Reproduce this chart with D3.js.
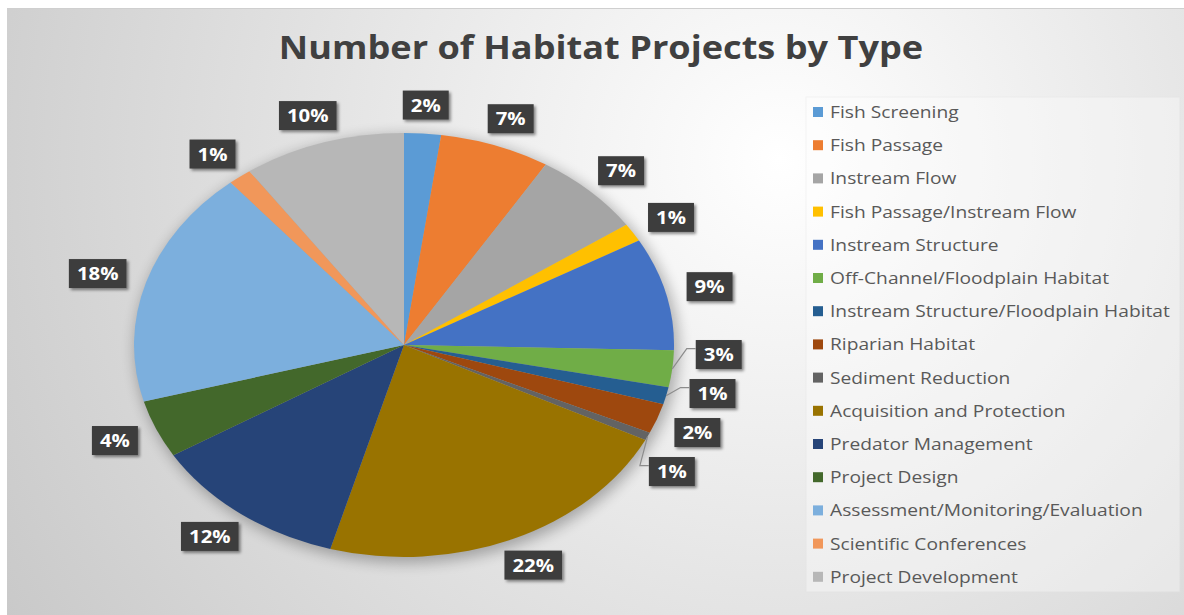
<!DOCTYPE html>
<html>
<head>
<meta charset="utf-8">
<script src="https://cdn.jsdelivr.net/npm/d3@7"></script>
<style>
  html, body { margin: 0; padding: 0; background: #fff; }
  svg { display: block; font-family: "Open Sans", "Noto Sans", sans-serif; }
</style>
</head>
<body>
<div id="chart"></div>
<script>
// habitat project counts by type (in percent of all projects)
const categories = [
  "Fish Screening", "Fish Passage", "Instream Flow", "Fish Passage/Instream Flow",
  "Instream Structure", "Off-Channel/Floodplain Habitat", "Instream Structure/Floodplain Habitat",
  "Riparian Habitat", "Sediment Reduction", "Acquisition and Protection", "Predator Management",
  "Project Design", "Assessment/Monitoring/Evaluation", "Scientific Conferences", "Project Development"
];
const values = [2.2, 6.6, 6.6, 1.4, 8.6, 2.8, 1.3, 2.3, 0.6, 22.0, 11.9, 4.4, 18.2, 1.4, 9.7];
const colors = [
  "#5b9bd5", "#ed7d31", "#a5a5a5", "#ffc000", "#4472c4", "#70ad47", "#255e91",
  "#9e480e", "#636363", "#997300", "#264478", "#43682b", "#7cafdd", "#f1975a", "#b7b7b7"
];
const title = "Number of Habitat Projects by Type";

const width = 1184, height = 615;
const cx = 404, cy = 345, rx = 270, ry = 212;
const stretch = 1.13; // the original picture is stretched sideways, text too

const data = categories.map((c, i) => ({ name: c, value: values[i], color: colors[i] }));
const total = d3.sum(values);

const svg = d3.select("#chart").append("svg")
  .attr("width", width)
  .attr("height", height);

const defs = svg.append("defs");

// background gradient like the office chart style
const grad = defs.append("radialGradient")
  .attr("id", "bg")
  .attr("gradientUnits", "userSpaceOnUse")
  .attr("cx", 780).attr("cy", 160).attr("r", 900);
grad.append("stop").attr("offset", 0).attr("stop-color", "#ffffff");
grad.append("stop").attr("offset", 1).attr("stop-color", "#c9c9c9");

const blur = defs.append("filter").attr("id", "pieShadow")
  .attr("x", "-20%").attr("y", "-20%").attr("width", "140%").attr("height", "140%");
blur.append("feGaussianBlur").attr("stdDeviation", 7);

const boxShadow = defs.append("filter").attr("id", "boxShadow")
  .attr("x", "-30%").attr("y", "-30%").attr("width", "160%").attr("height", "160%");
boxShadow.append("feDropShadow")
  .attr("dx", 2).attr("dy", 2).attr("stdDeviation", 1.5)
  .attr("flood-color", "#000").attr("flood-opacity", 0.45);

svg.append("rect")
  .attr("x", 7).attr("y", 8)
  .attr("width", width - 7).attr("height", height - 8)
  .attr("fill", "url(#bg)");
svg.append("line")
  .attr("x1", 7).attr("x2", width).attr("y1", 8.5).attr("y2", 8.5)
  .attr("stroke", "#cfcfcf");

svg.append("text")
  .attr("transform", `translate(601,59) scale(${stretch},1)`)
  .attr("text-anchor", "middle")
  .attr("font-size", 32)
  .attr("font-weight", "bold")
  .attr("fill", "#404040")
  .text(title);

// pie (drawn as a circle then stretched into the ellipse of the original)
const pie = d3.pie().sort(null).value(d => d.value);
const arcs = pie(data);
const arc = d3.arc().innerRadius(0).outerRadius(ry);

svg.append("ellipse")
  .attr("cx", cx + 3).attr("cy", cy + 4)
  .attr("rx", rx + 2).attr("ry", ry + 2)
  .attr("fill", "#000").attr("opacity", 0.28)
  .attr("filter", "url(#pieShadow)");

svg.append("g")
  .attr("transform", `translate(${cx},${cy}) scale(${rx / ry},1)`)
  .selectAll("path")
  .data(arcs)
  .join("path")
  .attr("d", arc)
  .attr("fill", d => d.data.color);

// data labels
const gap = 14, gapX = 8, boxH = 29;
const labelG = svg.append("g").attr("font-size", 18).attr("font-weight", "bold");

const labels = arcs.map(a => {
  const th = (a.startAngle + a.endAngle) / 2;
  const txt = Math.round(a.data.value / total * 100) + "%";
  return { a, th, txt };
});

// measure widths
labels.forEach(l => {
  const t = labelG.append("text").text(l.txt);
  l.w = t.node().getComputedTextLength() * stretch + 16;
  t.remove();
  l.Rx = rx + gap + gapX + l.w / 2;
  l.Ry = ry + gap + boxH / 2;
  l.side = Math.sin(l.th) >= 0 ? 1 : -1;
  l.x0 = cx + l.Rx * Math.sin(l.th);
  l.y0 = cy - l.Ry * Math.cos(l.th);
  l.x = l.x0; l.y = l.y0;
});

function xFromY(l) {
  let c = -(l.y - cy) / l.Ry;
  c = Math.max(-1, Math.min(1, c));
  return cx + l.side * l.Rx * Math.sqrt(1 - c * c);
}

// push overlapping labels apart vertically
for (let it = 0; it < 200; it++) {
  let moved = false;
  for (let i = 0; i < labels.length; i++) {
    for (let j = i + 1; j < labels.length; j++) {
      const p = labels[i], q = labels[j];
      const dx = Math.abs(p.x - q.x), dy = q.y - p.y;
      const minY = boxH + 10;
      if (dx < (p.w + q.w) / 2 + 4 && Math.abs(dy) < minY) {
        const push = (minY - Math.abs(dy)) / 2 * (dy >= 0 ? 1 : -1);
        p.y -= push * 0.5; q.y += push * 0.5;
        moved = true;
      }
    }
  }
  labels.forEach(l => { l.x = xFromY(l); });
  if (!moved) break;
}

// leader lines for labels that had to move
labels.forEach(l => {
  const moved = Math.hypot(l.x - l.x0, l.y - l.y0);
  if (moved > 8) {
    const px = cx + rx * Math.sin(l.th), py = cy - ry * Math.cos(l.th);
    const edge = l.x - l.side * l.w / 2;
    svg.append("polyline")
      .attr("points", [[px, py], [edge - l.side * 9, l.y - 6], [edge, l.y - 6]].join(" "))
      .attr("fill", "none")
      .attr("stroke", "#8c8c8c")
      .attr("stroke-width", 1.2);
  }
});

const lab = labelG.selectAll("g")
  .data(labels)
  .join("g")
  .attr("transform", d => `translate(${d.x},${d.y})`);

lab.append("rect")
  .attr("x", d => -d.w / 2).attr("y", -boxH / 2)
  .attr("width", d => d.w).attr("height", boxH)
  .attr("fill", "#3d3d3d")
  .attr("filter", "url(#boxShadow)");

lab.append("text")
  .attr("transform", `scale(${stretch},1)`)
  .attr("text-anchor", "middle")
  .attr("dy", "0.36em")
  .attr("fill", "#fff")
  .text(d => d.txt);

// legend
const legX = 806, legY = 97;
svg.append("rect")
  .attr("x", legX).attr("y", legY)
  .attr("width", 374).attr("height", 495)
  .attr("fill", "#ffffff").attr("opacity", 0.35)
  .attr("stroke", "#e4e4e4");

const legend = svg.append("g")
  .selectAll("g")
  .data(data)
  .join("g")
  .attr("transform", (d, i) => `translate(${legX + 7},${112 + i * 33.2})`);

legend.append("rect")
  .attr("x", 0).attr("y", -5)
  .attr("width", 10).attr("height", 10)
  .attr("fill", d => d.color);

legend.append("text")
  .attr("transform", `translate(17,0) scale(${stretch},1)`)
  .attr("dy", "0.35em")
  .attr("font-size", 17)
  .attr("fill", "#595959")
  .text(d => d.name);
</script>
</body>
</html>
